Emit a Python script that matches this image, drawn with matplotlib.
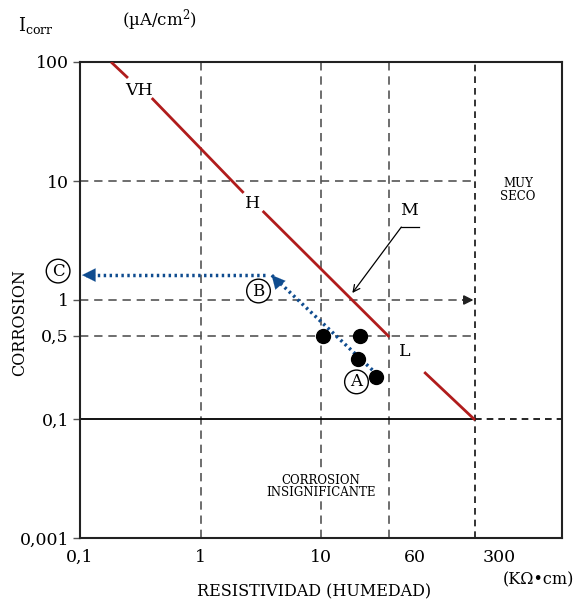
import matplotlib
matplotlib.use("Agg")
import matplotlib.pyplot as plt
from matplotlib.ticker import FixedLocator, FixedFormatter, NullLocator

plt.rcParams['font.family'] = ['DejaVu Serif']
plt.rcParams['mathtext.fontset'] = 'dejavuserif'

# ---- data ----
x_ticks = [0.1, 1, 10, 60, 300]
x_ticklabels = ['0,1', '1', '10', '60', '300']
y_ticks = [0.01, 0.1, 0.5, 1, 10, 100]
y_ticklabels = ['0,001', '0,1', '0,5', '1', '10', '100']

v_lines = [1, 10, 37]          # dashed vertical guide lines (gray)
v_line_dry = 190               # limit of "muy seco"
h_lines = [10, 1, 0.5]         # dashed horizontal guide lines

# red corrosion-level line segments (resistivity, icorr)
seg1_r = [0.181, 0.250];  seg1_i = [100, 73.4]
seg2_r = [0.394, 2.28];   seg2_i = [49.8, 7.94]
seg3_r = [3.28, 36.9];    seg3_i = [5.6, 0.489]
seg4_r = [71.9, 190];     seg4_i = [0.248, 0.098]

# measured points
pts_r = [10.3, 21.2, 20.4, 28.8]
pts_i = [0.5, 0.5, 0.319, 0.225]

# blue path A -> B -> C
path_ab_r = [26.7, 3.89]; path_ab_i = [0.258, 1.62]
path_bc_r = [3.4, 0.104]; path_bc_i = [1.62, 1.62]

fig = plt.figure(figsize=(5.81, 6.03), dpi=100)
ax = fig.add_axes([80/581, 1-538/603, 482/581, 476/603])
ax.set_xscale('log'); ax.set_yscale('log')
ax.set_xlim(0.1, 1000); ax.set_ylim(0.01, 100)

grid_c = '#555555'
for v in v_lines:
    ax.plot([v, v], [0.01, 100], ls=(0, (5, 3.5)), color=grid_c, lw=1.2, zorder=1)
ax.plot([v_line_dry]*2, [0.01, 100], ls=(0, (4, 3)), color='#111111', lw=1.2, zorder=1)
for h in h_lines:
    end = v_line_dry if h != 1 else 175
    ax.plot([0.1, end], [h, h], ls=(0, (5, 3.5)), color=grid_c, lw=1.2, zorder=1)
ax.annotate('', xy=(v_line_dry*0.97, 1), xytext=(150, 1),
            arrowprops=dict(arrowstyle='-|>', color='#222222', lw=1.2,
                            mutation_scale=14, shrinkA=0, shrinkB=0))
ax.plot([0.1, v_line_dry], [0.1, 0.1], color='black', lw=1.3, zorder=2)
ax.plot([v_line_dry, 1000], [0.1, 0.1], ls=(0, (4, 3)), color='black', lw=1.2, zorder=2)

red = '#b01c1c'
for r, i in [(seg1_r, seg1_i), (seg2_r, seg2_i), (seg3_r, seg3_i), (seg4_r, seg4_i)]:
    ax.plot(r, i, color=red, lw=2.0, zorder=3, solid_capstyle='butt')

ax.plot(pts_r, pts_i, 'o', color='black', ms=10, zorder=5)

blue = '#0f4c8f'
ax.plot(path_ab_r, path_ab_i, color=blue, lw=2.5, ls=(0, (0.7, 1.0)), zorder=4)
ax.annotate('', xy=(path_ab_r[1], path_ab_i[1]), xytext=(4.7, 1.30),
            arrowprops=dict(arrowstyle='-|>', color=blue, lw=0.1,
                            mutation_scale=24, shrinkA=0, shrinkB=0), zorder=4)
ax.plot(path_bc_r, path_bc_i, color=blue, lw=2.5, ls=(0, (0.7, 1.0)), zorder=4)
ax.annotate('', xy=(path_bc_r[1], path_bc_i[1]), xytext=(0.135, 1.62),
            arrowprops=dict(arrowstyle='-|>', color=blue, lw=0.1,
                            mutation_scale=24, shrinkA=0, shrinkB=0), zorder=4)

# labels on the red line
fs = 12.5
ax.text(0.31, 58, 'VH', fontsize=fs, ha='center', va='center')
ax.text(2.72, 6.5, 'H', fontsize=fs, ha='center', va='center')
ax.text(50, 0.37, 'L', fontsize=fs, ha='center', va='center')
ax.text(54, 5.6, 'M', fontsize=fs, ha='center', va='center')
ax.plot([46.4, 65.4], [4.1, 4.1], color='black', lw=0.9)
ax.annotate('', xy=(18.2, 1.145), xytext=(46.4, 4.1),
            arrowprops=dict(arrowstyle='->', color='black', lw=0.9,
                            mutation_scale=12, shrinkA=0, shrinkB=0))

circ = dict(boxstyle='circle,pad=0.2', fc='white', ec='black', lw=1.0)
ax.text(19.7, 0.205, 'A', fontsize=12, ha='center', va='center', bbox=circ, zorder=6)
ax.text(3.03, 1.19, 'B', fontsize=12, ha='center', va='center', bbox=circ, zorder=6)
ax.text(0.0658, 1.75, 'C', fontsize=12, ha='center', va='center', bbox=circ,
        zorder=6, clip_on=False)

ax.text(432, 8.4, 'MUY\nSECO', fontsize=8.5, ha='center', va='center', linespacing=0.95)
ax.text(10, 0.027, 'CORROSION\nINSIGNIFICANTE', fontsize=8.5, ha='center', va='center',
        linespacing=0.95, zorder=6,
        bbox=dict(boxstyle='square,pad=0.15', fc='white', ec='none'))

# axes
for s in ax.spines.values():
    s.set_linewidth(1.5)
    s.set_color('#222222')
ax.xaxis.set_major_locator(FixedLocator(x_ticks))
ax.xaxis.set_major_formatter(FixedFormatter(x_ticklabels))
ax.xaxis.set_minor_locator(NullLocator())
ax.yaxis.set_major_locator(FixedLocator(y_ticks))
ax.yaxis.set_major_formatter(FixedFormatter(y_ticklabels))
ax.yaxis.set_minor_locator(NullLocator())
ax.tick_params(axis='x', length=0, pad=8, labelsize=12.5)
ax.tick_params(axis='y', length=5, width=1, pad=3, labelsize=12.5, color=grid_c)

fig.text(20/581, 1-323/603, 'CORROSION', rotation=90, fontsize=11.5, ha='center', va='center')
fig.text(314/581, 1-592/603, 'RESISTIVIDAD (HUMEDAD)', fontsize=11.5, ha='center', va='center')
fig.text(538/581, 1-580/603, '(K\u03a9\u2022cm)', fontsize=11.5, ha='center', va='center')
fig.text(18/581, 1-25/603, r'I$_{\mathregular{corr}}$', fontsize=13, ha='left', va='center')
fig.text(160/581, 1-20/603, '(\u00b5A/cm$^{\\mathregular{2}}$)', fontsize=12, ha='center', va='center')

fig.savefig('out.png', dpi=100)
